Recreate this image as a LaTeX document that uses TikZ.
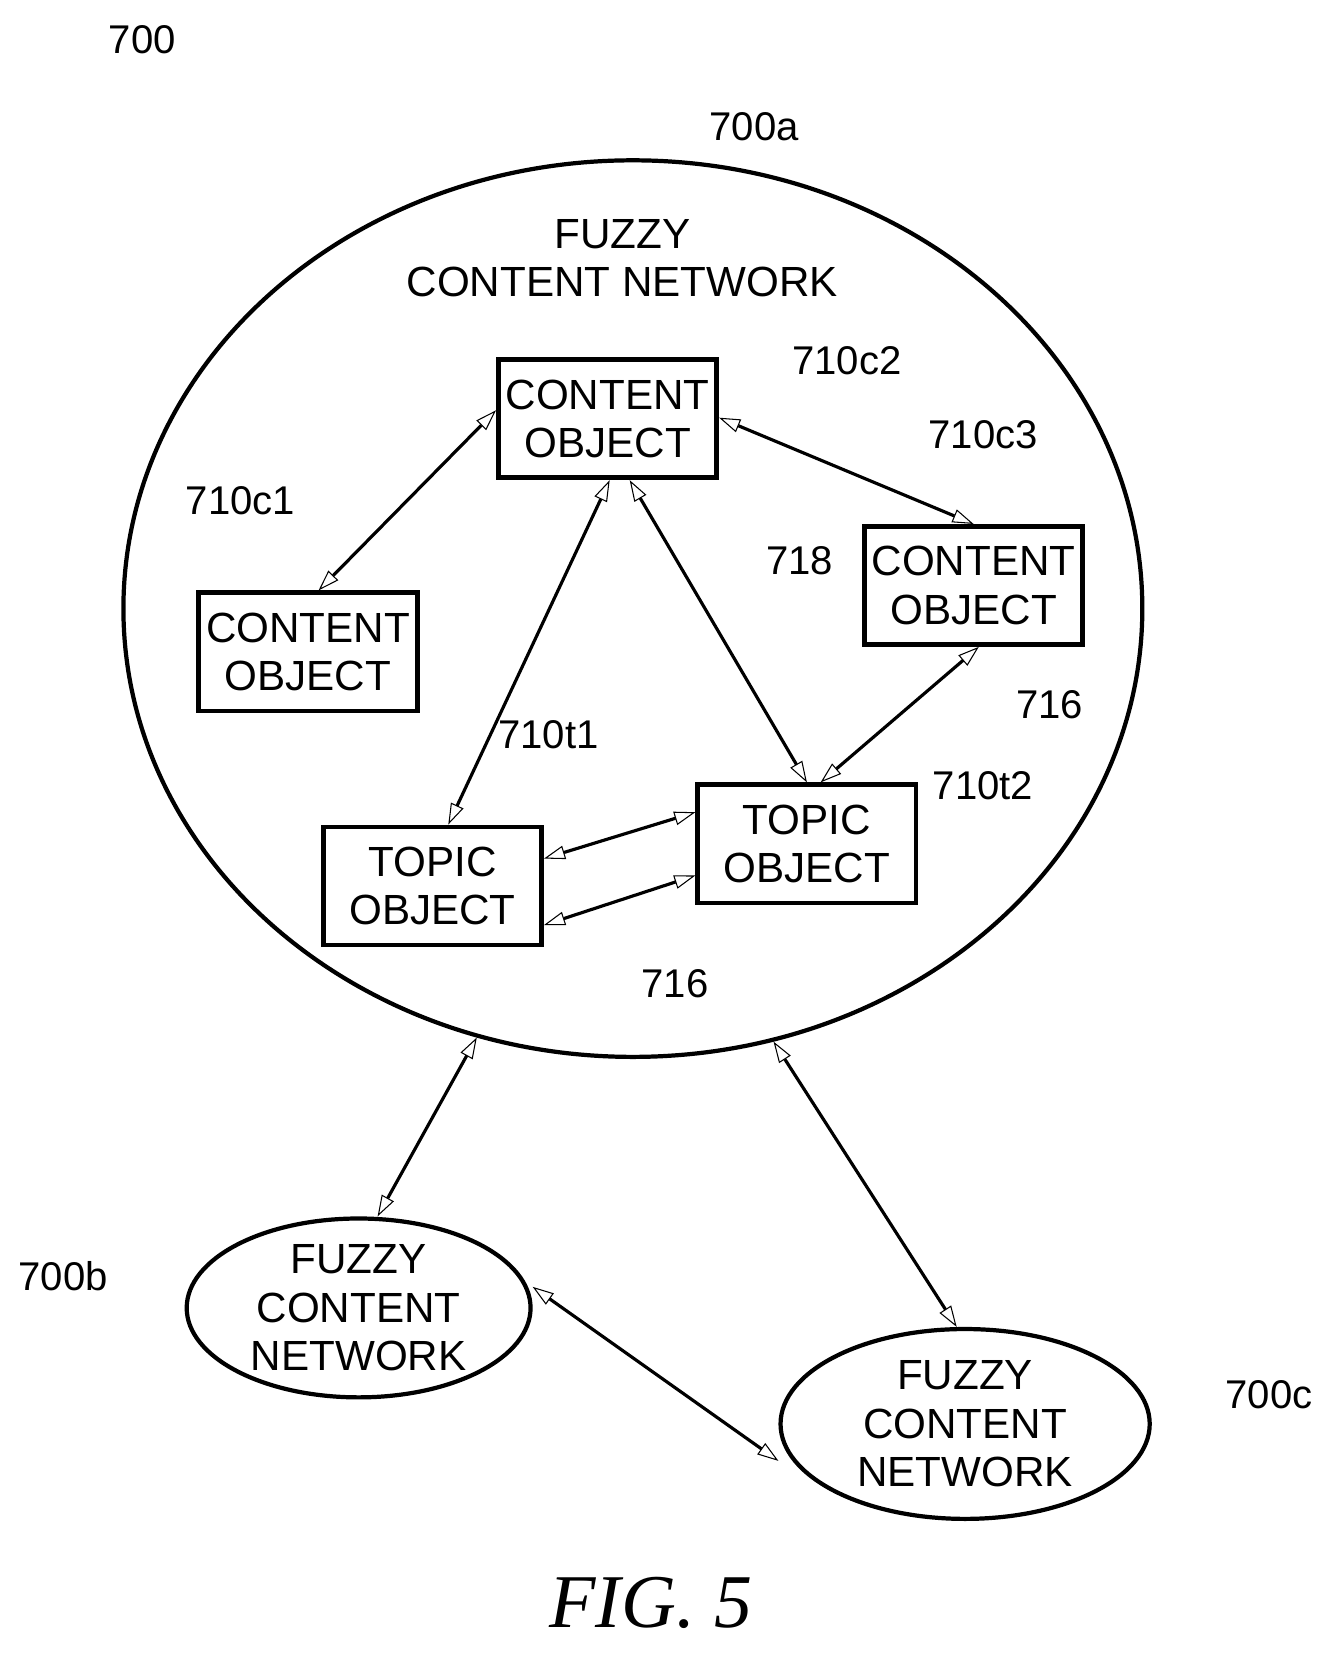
\documentclass[tikz,border=0pt]{standalone}
\usepackage{fontspec}
\setmainfont{Liberation Sans}
\newfontfamily\figfont{Liberation Serif}
\usetikzlibrary{arrows.meta, shapes.geometric}

\begin{document}
\begin{tikzpicture}[x=1pt, y=-1pt, line width=3pt,
    <->, >={Triangle[open, fill=white, length=20pt, width=13pt, line width=1pt]}]
    \tikzstyle{obj} = [draw, line width=4.5pt, minimum width=207pt, minimum height=112pt,
        align=center, font=\fontsize{40}{46}\selectfont, inner sep=0pt]
    \tikzstyle{net} = [draw, ellipse, line width=4pt, align=center, inner sep=0pt,
        font=\fontsize{40}{46}\selectfont]
    \tikzstyle{lbl} = [font=\fontsize{38}{44}\selectfont]
    \useasboundingbox (0,0) rectangle (1265,1570);
    % networks
    \node [net, minimum width=966pt, minimum height=850pt] at (600,577) (fcn) {};
    \node [font=\fontsize{40}{46}\selectfont, align=center] at (590,245) (title) {FUZZY\\CONTENT NETWORK};
    \node [net, minimum width=326pt, minimum height=164pt] at (340,1240) (fcnb) {FUZZY\\CONTENT\\NETWORK};
    \node [net, minimum width=350pt, minimum height=180pt] at (915,1350) (fcnc) {FUZZY\\CONTENT\\NETWORK};
    % objects
    \node [obj] at (576,397) (co2) {CONTENT\\OBJECT};
    \node [obj] at (923,555) (co3) {CONTENT\\OBJECT};
    \node [obj] at (292,618) (co1) {CONTENT\\OBJECT};
    \node [obj] at (410,840) (to1) {TOPIC\\OBJECT};
    \node [obj] at (765,800) (to2) {TOPIC\\OBJECT};
    % labels
    \node [lbl] at (135,38) {700};
    \node [lbl] at (715,120) {700a};
    \node [lbl] at (803,342) {710c2};
    \node [lbl] at (932,412) {710c3};
    \node [lbl] at (228,475) {710c1};
    \node [lbl] at (758,532) {718};
    \node [lbl] at (995,668) {716};
    \node [lbl] at (520,697) {710t1};
    \node [lbl] at (932,745) {710t2};
    \node [lbl] at (640,933) {716};
    \node [lbl] at (60,1210) {700b};
    \node [lbl] at (1203,1322) {700c};
    \node [font={\figfont\fontsize{72}{80}\selectfont\itshape}] at (617,1520) (fig) {FIG. 5};
    % links
    \draw ([yshift=8pt]co2.west) to ([xshift=10pt]co1.north);
    \draw ([yshift=1pt]co2.east) to (co3.north);
    \draw ([xshift=2pt]co2.south) to ([xshift=15pt]to1.north);
    \draw ([xshift=21pt]co2.south) to (to2.north);
    \draw ([xshift=5pt]co3.south) to ([xshift=13pt]to2.north);
    \draw ([yshift=-37pt]to1.east) to ([yshift=-30pt]to2.west);
    \draw ([yshift=26pt]to1.east) to ([yshift=30pt]to2.west);
    \draw (fcn.250) to ([xshift=18pt]fcnb.north);
    \draw (fcn.288) to ([xshift=-8pt]fcnc.north);
    \draw ([yshift=20pt]fcnb.east) to ([yshift=-35pt]fcnc.west);
\end{tikzpicture}
\end{document}
